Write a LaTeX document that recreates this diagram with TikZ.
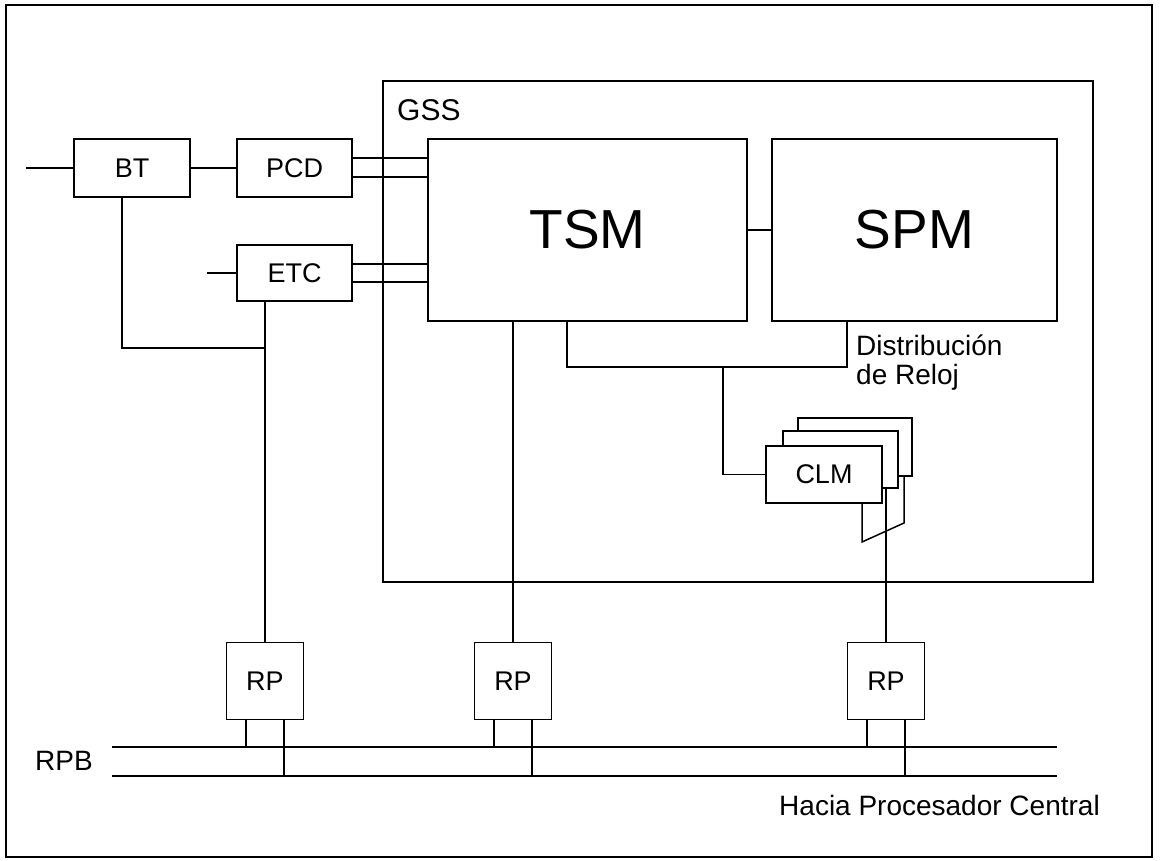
\documentclass[tikz,border=0pt]{standalone}
\usepackage{fontspec}
\setmainfont{Liberation Sans}
\usetikzlibrary{positioning, calc}
\tikzset{
  wire/.style={line width=1.5pt},
  blk/.style={draw, wire, fill=white, inner sep=0pt, font=\fontsize{27}{32}\selectfont},
  bigblk/.style={blk, font=\fontsize{55}{60}\selectfont},
  lbl/.style={inner sep=0pt, font=\fontsize{28}{30}\selectfont},
}
\begin{document}
\begin{tikzpicture}[x=1pt, y=-1pt]
  \useasboundingbox (0,0) rectangle (1165,860);
  \draw[wire] (6,5) rectangle (1152,857);

  % GSS frame
  \node[draw, wire, minimum width=710pt, minimum height=501pt, inner sep=0pt] (gss) at (738,331.5) {};
  \node[lbl, anchor=base west, font=\fontsize{30}{32}\selectfont] (gsslbl) at (397,120) {GSS};
  \node[bigblk, minimum width=319pt, minimum height=182pt] (tsm) at (587.5,230) {TSM};
  \node[bigblk, minimum width=285pt, minimum height=182pt] (spm) at (914.5,230) {SPM};
  \draw[wire] (tsm.east) -- (spm.west);

  % left side
  \node[blk, minimum width=116pt, minimum height=58pt] (bt) at (132,168) {BT};
  \node[blk, minimum width=115pt, minimum height=58pt] (pcd) at (294.5,168) {PCD};
  \node[blk, minimum width=115pt, minimum height=56pt] (etc) at (294.5,273) {ETC};
  \coordinate (btin) at (26,168);
  \coordinate (etcin) at (207,273);
  \draw[wire] (btin) -- (bt.west);
  \draw[wire] (etcin) -- (etc.west);
  \draw[wire] (bt.east) -- (pcd.west);
  \draw[wire] (pcd.east |- 0,158) -- (tsm.west |- 0,158);
  \draw[wire] (pcd.east |- 0,177) -- (tsm.west |- 0,177);
  \draw[wire] (etc.east |- 0,264) -- (tsm.west |- 0,264);
  \draw[wire] (etc.east |- 0,282) -- (tsm.west |- 0,282);

  % regional processors and bus
  \coordinate (busL1) at (112,747);
  \coordinate (busR1) at (1057,747);
  \coordinate (busL2) at (112,776);
  \coordinate (busR2) at (1057,776);
  \draw[wire] (busL1) -- (busR1);
  \draw[wire] (busL2) -- (busR2);
  \foreach \r/\x in {rp1/265, rp2/513, rp3/886} {
    \node[blk, minimum width=77pt, minimum height=77pt] (\r) at (\x,681) {RP};
    \draw[wire] ([xshift=-19pt]\r.south) -- ([xshift=-19pt]\r.south |- busL1);
    \draw[wire] ([xshift=19pt]\r.south) -- ([xshift=19pt]\r.south |- busL2);
  }
  \node[lbl, anchor=base west] (rpb) at (35,770) {RPB};
  \node[lbl, anchor=base east] (hacia) at (1100,815) {Hacia Procesador Central};

  \coordinate (j1) at (265,348);
  \draw[wire] (bt.south -| 122,0) -- (122,348) -- (j1);
  \draw[wire] (etc.south -| rp1.north) -- (rp1.north);
  \draw[wire] (tsm.south -| rp2.north) -- (rp2.north);

  % clock modules
  \node[blk, minimum width=114pt, minimum height=58pt] (clm3) at (855,447) {};
  \node[blk, minimum width=115pt, minimum height=57pt] (clm2) at (840.5,459.5) {};
  \node[blk, minimum width=116pt, minimum height=57pt] (clm) at (824,474.5) {CLM};
  \draw[wire] (clm.south -| 862,0) -- (862,542) -- (904,523) -- (clm3.south -| 904,0);
  \draw[wire] (clm2.south -| rp3.north) -- (rp3.north);

  \coordinate (clk) at (723,367);
  \draw[wire] (tsm.south -| 567,0) -- (567,367) -- (847,367) -- (spm.south -| 847,0);
  \draw[wire] (clk) -- (clk |- clm.west) -- (clm.west);
  \node[lbl, anchor=base west] (dist) at (856,355) {Distribución};
  \node[lbl, anchor=base west] (reloj) at (856,384) {de Reloj};
\end{tikzpicture}
\end{document}
